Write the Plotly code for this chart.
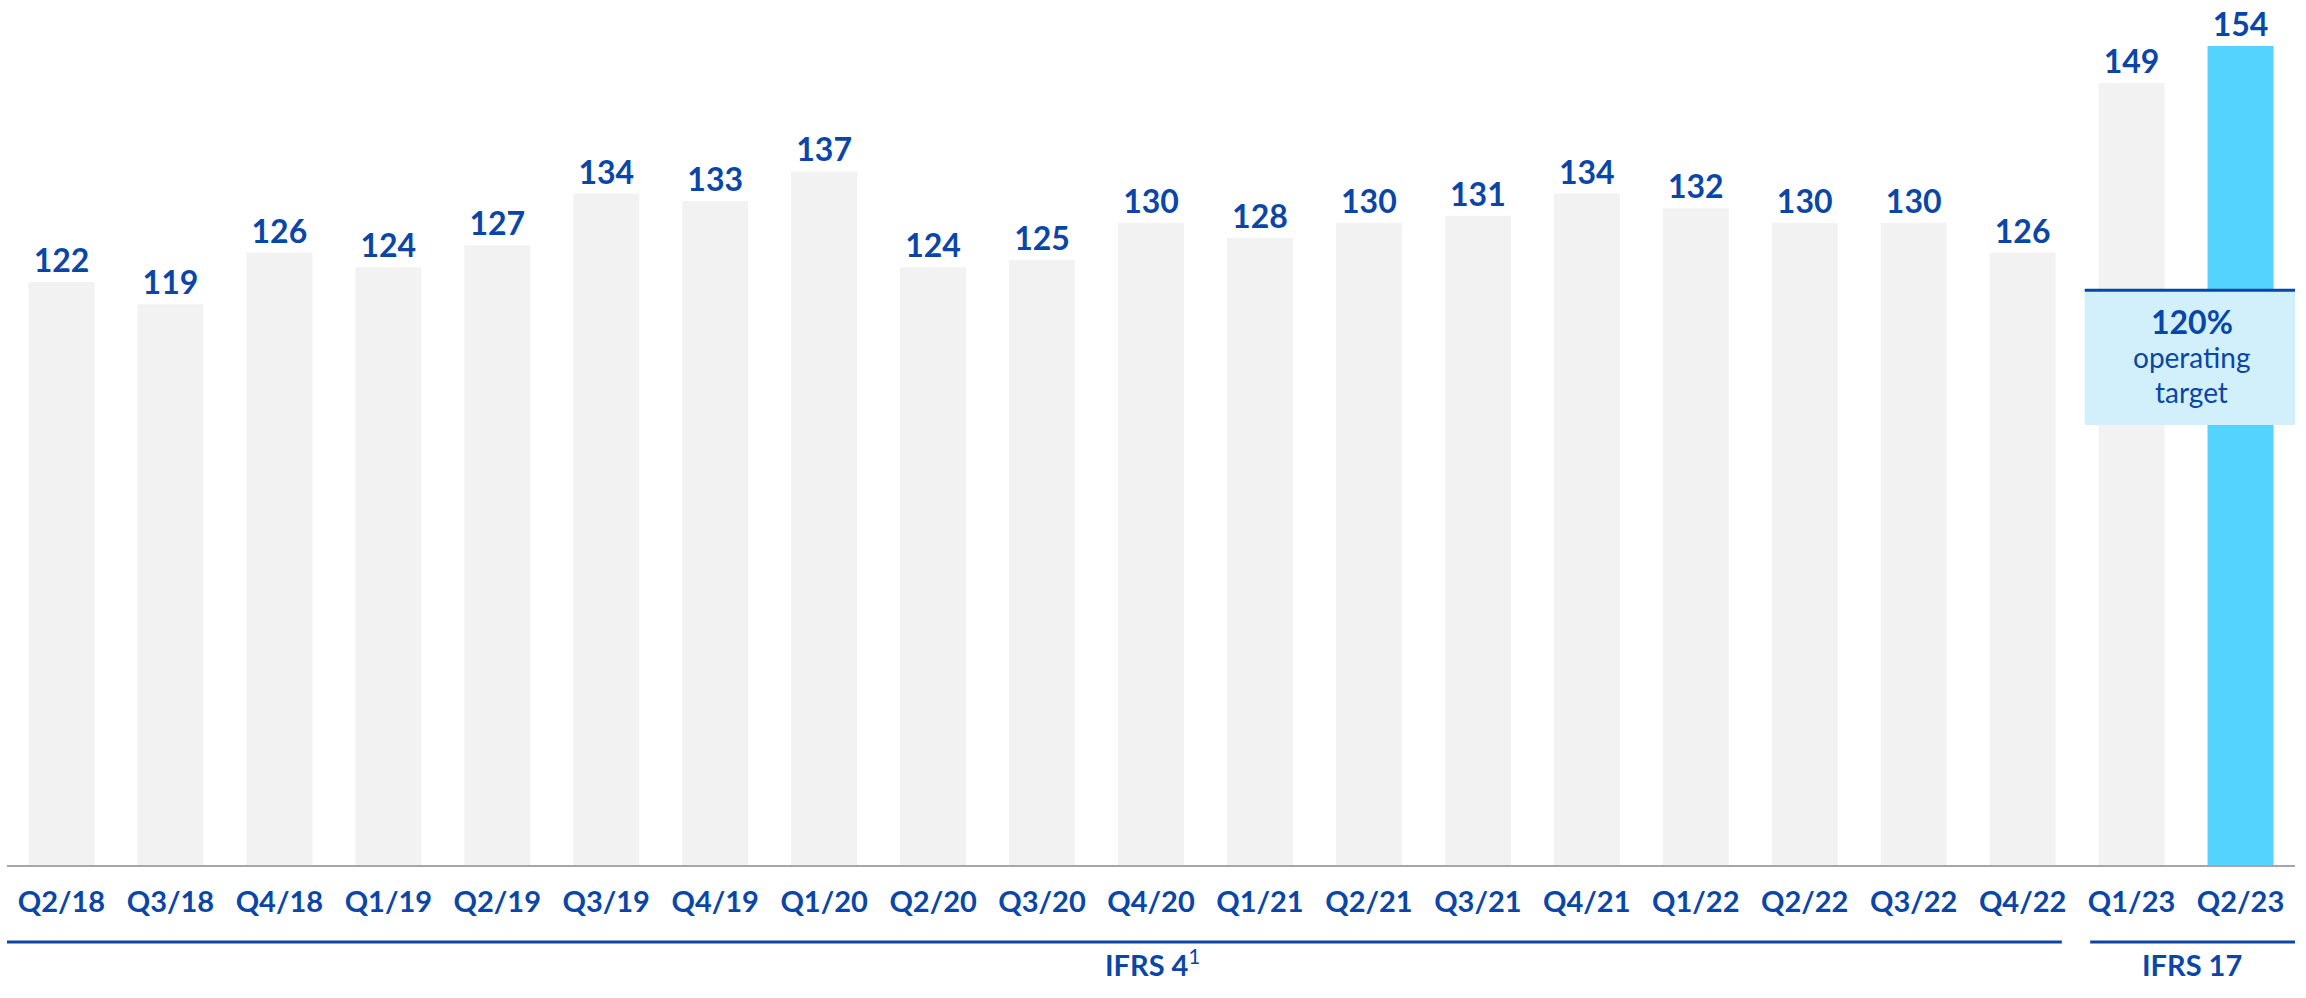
import plotly.graph_objects as go

quarters = ["Q2/18", "Q3/18", "Q4/18", "Q1/19", "Q2/19", "Q3/19", "Q4/19", "Q1/20",
            "Q2/20", "Q3/20", "Q4/20", "Q1/21", "Q2/21", "Q3/21", "Q4/21", "Q1/22",
            "Q2/22", "Q3/22", "Q4/22", "Q1/23", "Q2/23"]
ratios = [122, 119, 126, 124, 127, 134, 133, 137, 124, 125, 130, 128, 130, 131, 134,
          132, 130, 130, 126, 149, 154]
bar_colors = ["#f2f2f2"] * 20 + ["#55d3ff"]

BLUE = "#0a46a8"
FONT = "Lato"

fig = go.Figure()
fig.add_trace(go.Bar(
    x=list(range(len(quarters))), y=ratios,
    marker=dict(color=bar_colors, line=dict(width=0)),
    text=[str(v) for v in ratios], textposition="outside",
    textfont=dict(family=FONT, size=32, color=BLUE, weight="bold"),
    constraintext="none", cliponaxis=False, hoverinfo="skip",
))

# target box
fig.add_shape(type="rect", xref="x", yref="y", x0=18.57, x1=20.52, y0=102.6, y1=120.9,
              fillcolor="#d1f0fc", line=dict(width=0), layer="above")
fig.add_shape(type="line", xref="x", yref="y", x0=18.57, x1=20.52, y0=120.9, y1=120.9,
              line=dict(color=BLUE, width=3), layer="above")
fig.add_annotation(x=19.55, y=116.6, xref="x", yref="y", text="<b>120%</b>", showarrow=False,
                   font=dict(family=FONT, size=32, color=BLUE))
fig.add_annotation(x=19.55, y=111.8, xref="x", yref="y", text="operating", showarrow=False,
                   font=dict(family=FONT, size=28, color=BLUE))
fig.add_annotation(x=19.55, y=107.1, xref="x", yref="y", text="target", showarrow=False,
                   font=dict(family=FONT, size=28, color=BLUE))

# regime brackets
fig.add_shape(type="line", xref="x", yref="paper", x0=-0.51, x1=18.36, y0=-0.089, y1=-0.089,
              line=dict(color=BLUE, width=3))
fig.add_shape(type="line", xref="x", yref="paper", x0=18.62, x1=20.51, y0=-0.089, y1=-0.089,
              line=dict(color=BLUE, width=3))
fig.add_annotation(x=(1152 - 61) / 109, y=-0.137, xref="x", yref="paper",
                   text="<b>IFRS 4</b><sup>1</sup>", showarrow=False,
                   font=dict(family=FONT, size=29, color=BLUE))
fig.add_annotation(x=(2192 - 61) / 109, y=-0.137, xref="x", yref="paper",
                   text="<b>IFRS 17</b>", showarrow=False,
                   font=dict(family=FONT, size=29, color=BLUE))

fig.update_layout(
    template="none",
    width=2306, height=998,
    margin=dict(l=6.5, r=10.5, t=0, b=133, pad=0, autoexpand=False),
    plot_bgcolor="white", paper_bgcolor="white",
    bargap=0.394, showlegend=False,
    xaxis=dict(tickmode="array", tickvals=list(range(len(quarters))), ticktext=quarters,
               range=[-0.5, 20.5], showgrid=False, zeroline=False, automargin=False,
               showline=True, linecolor="#a6a6a6", linewidth=2,
               tickfont=dict(family=FONT, size=29, color=BLUE, weight="bold"),
               ticks="", ticklabelstandoff=10),
    yaxis=dict(visible=False, range=[42.95, 160.24], automargin=False),
)

fig.write_html("out.html", config={"displayModeBar": False},
               post_script="document.body.style.margin='0';document.body.style.overflow='hidden';")
